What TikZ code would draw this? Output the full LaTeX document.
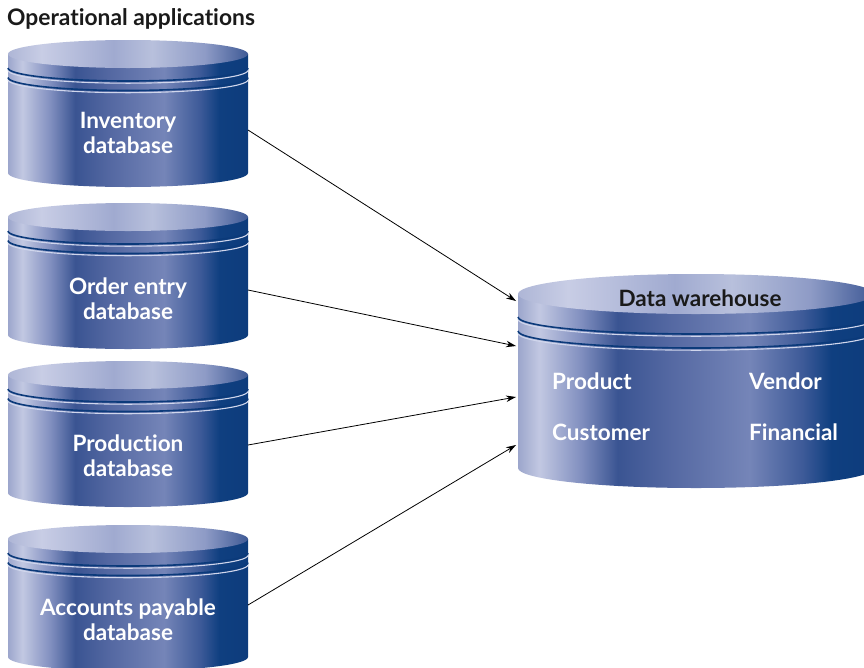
\documentclass[tikz,border=0pt]{standalone}
\usepackage{fontspec}
\setmainfont{Lato}[Ligatures=NoCommon]
\usetikzlibrary{arrows.meta}
\definecolor{sA}{HTML}{9CA6CC}
\definecolor{sB}{HTML}{C2C8E2}
\definecolor{sC}{HTML}{8290C0}
\definecolor{sD}{HTML}{3A5492}
\definecolor{sE}{HTML}{5468A2}
\definecolor{sF}{HTML}{7585B8}
\definecolor{sG}{HTML}{3D5A98}
\definecolor{sH}{HTML}{0F3F80}
\definecolor{sI}{HTML}{0D3C7C}
\definecolor{tA}{HTML}{AEB6D6}
\definecolor{tB}{HTML}{C8CDE5}
\definecolor{tC}{HTML}{A0AAD0}
\definecolor{tD}{HTML}{B8C0DC}
\definecolor{tE}{HTML}{8E9BC6}
\definecolor{tF}{HTML}{3F5A96}
\definecolor{banddark}{HTML}{0B3A7A}
\definecolor{bandlight}{HTML}{D0D6EC}
\definecolor{titlegray}{HTML}{1A1A1A}
\pgfdeclarehorizontalshading{cylside}{100bp}{color(0bp)=(sA); color(25bp)=(sA); color(28bp)=(sB); color(33.75bp)=(sC); color(39bp)=(sD); color(46.25bp)=(sE); color(57.5bp)=(sF); color(65bp)=(sG); color(69bp)=(sH); color(75bp)=(sI); color(100bp)=(sI)}
\pgfdeclarehorizontalshading{cyltop}{100bp}{color(0bp)=(tA); color(25bp)=(tA); color(32bp)=(tB); color(47bp)=(tC); color(55bp)=(tD); color(66bp)=(tE); color(75bp)=(tF); color(100bp)=(tF)}
% cx, cy (top centre), rx, ry, height, band1, band2, bandry
\newcommand\drawdbcyl[8]{%
  \path[shading=cylside] ({#1-#3},#2) -- ({#1-#3},{#2+#5})
     arc[start angle=180,end angle=360,x radius=#3pt,y radius=#4pt] -- ({#1+#3},#2) -- cycle;
  \draw[bandlight,line width=1.1pt] ({#1-#3},{#2+#6+2.2}) arc[start angle=180,end angle=360,x radius=#3pt,y radius=#8pt];
  \draw[banddark,line width=1.6pt] ({#1-#3},{#2+#6}) arc[start angle=180,end angle=360,x radius=#3pt,y radius=#8pt];
  \draw[bandlight,line width=1.1pt] ({#1-#3},{#2+#7+2.2}) arc[start angle=180,end angle=360,x radius=#3pt,y radius=#8pt];
  \draw[banddark,line width=1.6pt] ({#1-#3},{#2+#7}) arc[start angle=180,end angle=360,x radius=#3pt,y radius=#8pt];
  \path[shading=cyltop] (#1,#2) ellipse[x radius=#3pt,y radius=#4pt];
}
\tikzset{
  dblabel/.style={text=white,font=\bfseries\fontsize{22.5}{25}\selectfont,align=center,inner sep=0pt},
  dwlabel/.style={text=white,font=\bfseries\fontsize{22.5}{25}\selectfont,anchor=west,inner sep=0pt},
  feed/.style={draw=black,line width=0.8pt,-{Stealth[length=10pt,width=6.5pt]}}
}
\begin{document}
\begin{tikzpicture}[x=1pt,y=-1pt]
\useasboundingbox[fill=white] (0,0) rectangle (864,667);
\node[anchor=west,inner sep=0pt,text=titlegray,font=\bfseries\fontsize{22.8}{24}\selectfont] (title) at (7,19) {Operational applications};

\drawdbcyl{128}{54}{120}{14}{119}{14}{23.5}{13}
\drawdbcyl{128}{217}{120}{14}{118}{14}{23.5}{13}
\drawdbcyl{128}{375}{120}{14}{118}{14}{23.5}{13}
\drawdbcyl{128}{539}{120}{14}{118}{14}{23.5}{13}
\drawdbcyl{696}{294}{178}{20}{174}{23}{37}{17}

\node[dblabel] (inv) at (128,133) {Inventory\\database};
\node[dblabel] (ord) at (128,299) {Order entry\\database};
\node[dblabel] (prd) at (128,456) {Production\\database};
\node[dblabel] (acc) at (128,620) {Accounts payable\\database};

\node[text=titlegray,font=\bfseries\fontsize{22.5}{25}\selectfont,inner sep=0pt] (dw) at (700,298) {Data warehouse};
\node[dwlabel] (product) at (552,381) {Product};
\node[dwlabel] (vendor) at (749,381) {Vendor};
\node[dwlabel] (customer) at (552,432) {Customer};
\node[dwlabel] (financial) at (749,432) {Financial};

\coordinate (inv-out) at (248,130);
\coordinate (ord-out) at (248,290);
\coordinate (prd-out) at (248,445);
\coordinate (acc-out) at (248,605);
\coordinate (dw-in1) at (516,301);
\coordinate (dw-in2) at (516,346);
\coordinate (dw-in3) at (516,397);
\coordinate (dw-in4) at (516,445);

\draw[feed] (inv-out) -- (dw-in1);
\draw[feed] (ord-out) -- (dw-in2);
\draw[feed] (prd-out) -- (dw-in3);
\draw[feed] (acc-out) -- (dw-in4);
\end{tikzpicture}
\end{document}
